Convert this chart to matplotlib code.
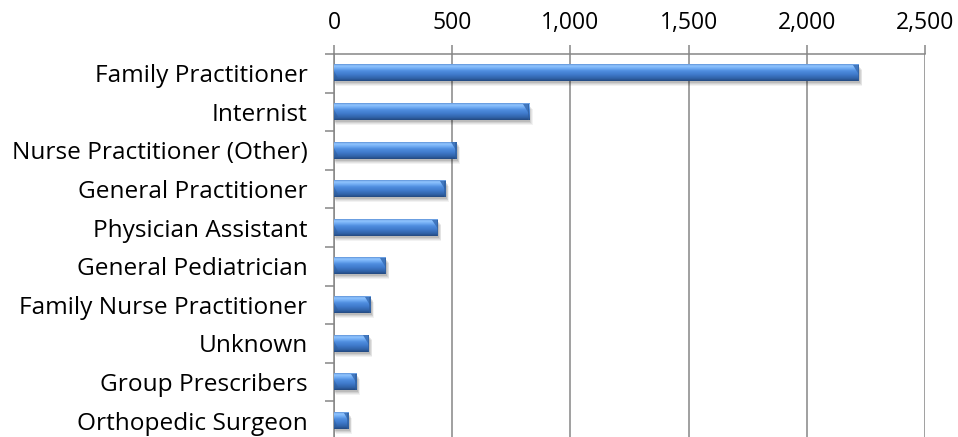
import numpy as np
import matplotlib
matplotlib.use("Agg")
import matplotlib.pyplot as plt
from matplotlib.colors import LinearSegmentedColormap
from matplotlib.patches import Rectangle, Polygon
from matplotlib.ticker import FuncFormatter

# data (top to bottom)
categories = ["Family Practitioner", "Internist", "Nurse Practitioner (Other)",
              "General Practitioner", "Physician Assistant", "General Pediatrician",
              "Family Nurse Practitioner", "Unknown", "Group Prescribers",
              "Orthopedic Surgeon"]
values = [2220, 825, 519, 472, 439, 219, 155, 147, 96, 62]
x_ticks = [0, 500, 1000, 1500, 2000, 2500]

plt.rcParams['font.family'] = ['Open Sans', 'DejaVu Sans']

fig = plt.figure(figsize=(9.58, 4.37), dpi=100)
ax = fig.add_axes([334 / 958, -3 / 437, 591 / 958, 386 / 437])

# bar shading, top -> bottom
bar_cmap = LinearSegmentedColormap.from_list("bevel", [
    (0.00, "#5f94d8"),
    (0.10, "#92c5ff"),
    (0.24, "#73aef5"),
    (0.40, "#4f8ddf"),
    (0.62, "#3f7acb"),
    (0.85, "#3062a8"),
    (1.00, "#244a80"),
])
grad = np.linspace(0, 1, 64).reshape(-1, 1)

h = 0.42
px_x = 2500 / 591.0
px_y = 1 / 38.6
for i, v in enumerate(values):
    # soft shadow
    for k, a in zip([5, 4, 3, 2], [0.05, 0.06, 0.08, 0.10]):
        ax.add_patch(Rectangle((k * px_x * 0.3, i - h / 2 + k * px_y),
                               v + k * px_x * 0.4, h, facecolor="#000000",
                               alpha=a, edgecolor="none", zorder=2))
    ax.imshow(grad, cmap=bar_cmap, aspect="auto", origin="upper",
              extent=[0, v, i + h / 2, i - h / 2], zorder=3,
              interpolation="bilinear")
    # bevel facets at both ends
    cw = min(6 * px_x, v * 0.35)
    ax.add_patch(Polygon([(v - cw, i - h / 2), (v, i - h / 2), (v, i + 0.1 * h)],
                         closed=True, facecolor="#3a70b8", edgecolor="none",
                         zorder=4, alpha=0.9))
    ax.add_patch(Polygon([(v - 1.2 * px_x, i - h / 2), (v, i - h / 2),
                          (v, i + h / 2), (v - 1.2 * px_x, i + h / 2)],
                         closed=True, facecolor="#2e5d9c", edgecolor="none",
                         zorder=4, alpha=0.6))
    lw = min(4 * px_x, v * 0.2)
    ax.add_patch(Polygon([(0, i + h / 2), (lw, i + h / 2 - 0.2 * h),
                          (0, i - h / 2 + 0.35 * h)],
                         closed=True, facecolor="#2f5d99", edgecolor="none",
                         zorder=4, alpha=0.5))

ax.set_xlim(0, 2500)
ax.set_ylim(len(categories) - 0.5, -0.5)

grid_col = "#868686"
ax.xaxis.tick_top()
ax.set_xticks(x_ticks)
ax.xaxis.set_major_formatter(FuncFormatter(lambda x, p: f"{int(x):,}"))
ax.tick_params(axis="x", length=6.5, width=1.1, color=grid_col, pad=7,
               labelsize=16.5, labelcolor="black")
ax.grid(axis="x", color=grid_col, linewidth=1.1, zorder=1)
ax.set_axisbelow(True)

ax.set_yticks(np.arange(-0.5, len(categories), 1.0))
ax.set_yticklabels([])
ax.set_yticks(np.arange(len(categories)), minor=True)
ax.set_yticklabels(categories, minor=True)
ax.tick_params(axis="y", which="major", length=6.5, width=1.1, color=grid_col)
ax.tick_params(axis="y", which="minor", length=0, pad=19, labelsize=17.6)

for side in ["right", "bottom"]:
    ax.spines[side].set_visible(False)
for side in ["top", "left"]:
    ax.spines[side].set_color(grid_col)
    ax.spines[side].set_linewidth(1.1)

fig.savefig("out.png", dpi=100)
